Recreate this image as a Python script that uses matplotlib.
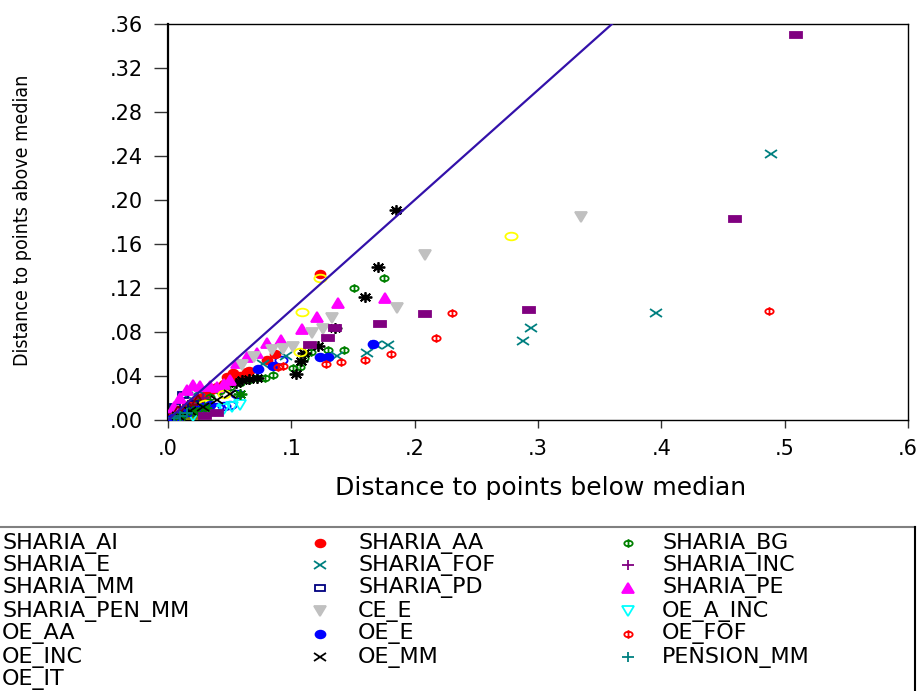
import matplotlib
matplotlib.use('Agg')
import matplotlib.pyplot as plt
from matplotlib.markers import MarkerStyle
from matplotlib.path import Path
from matplotlib.transforms import Affine2D
from matplotlib.lines import Line2D
from matplotlib import font_manager

W, H = 924, 691

# --- data, legend order row by row ---
names = ['SHARIA_AI', 'SHARIA_AA', 'SHARIA_BG',
         'SHARIA_E', 'SHARIA_FOF', 'SHARIA_INC',
         'SHARIA_MM', 'SHARIA_PD', 'SHARIA_PE',
         'SHARIA_PEN_MM', 'CE_E', 'OE_A_INC',
         'OE_AA', 'OE_E', 'OE_FOF',
         'OE_INC', 'OE_MM', 'PENSION_MM',
         'OE_IT']

sharia_ai_x = [0.040, 0.045, 0.050, 0.056, 0.092, 0.010, 0.020, 0.030]
sharia_ai_y = [0.012, 0.013, 0.014, 0.024, 0.055, 0.004, 0.007, 0.010]

sharia_aa_x = [0.123, 0.087, 0.080, 0.064, 0.053, 0.048, 0.005, 0.010, 0.015, 0.020,
               0.025, 0.030, 0.035, 0.040, 0.045, 0.050, 0.058, 0.066]
sharia_aa_y = [0.133, 0.060, 0.055, 0.044, 0.043, 0.039, 0.005, 0.009, 0.013, 0.016,
               0.020, 0.023, 0.027, 0.030, 0.033, 0.036, 0.040, 0.045]

sharia_bg_x = [0.175, 0.151, 0.143, 0.130, 0.116, 0.110, 0.107, 0.101, 0.085, 0.079,
               0.010, 0.018, 0.026, 0.034, 0.042, 0.050, 0.058, 0.066, 0.072]
sharia_bg_y = [0.129, 0.120, 0.064, 0.064, 0.062, 0.056, 0.048, 0.047, 0.041, 0.038,
               0.006, 0.011, 0.016, 0.021, 0.026, 0.030, 0.034, 0.036, 0.038]

sharia_e_x = [0.185, 0.170, 0.160, 0.135, 0.122, 0.110, 0.108, 0.104, 0.060, 0.066, 0.072, 0.055]
sharia_e_y = [0.191, 0.139, 0.112, 0.084, 0.067, 0.061, 0.054, 0.042, 0.036, 0.037, 0.038, 0.034]

sharia_fof_x = [0.489, 0.396, 0.294, 0.288, 0.178, 0.169, 0.161, 0.137, 0.096, 0.077, 0.015, 0.025]
sharia_fof_y = [0.242, 0.097, 0.084, 0.072, 0.068, 0.068, 0.061, 0.058, 0.058, 0.051, 0.022, 0.026]

sharia_inc_x = [0.005, 0.012, 0.020, 0.028]
sharia_inc_y = [0.006, 0.010, 0.015, 0.020]

sharia_mm_x = [0.008, 0.015, 0.020, 0.025, 0.030]
sharia_mm_y = [0.003, 0.004, 0.004, 0.005, 0.006]

sharia_pd_x = [0.012, 0.006, 0.020]
sharia_pd_y = [0.023, 0.012, 0.015]

sharia_pe_x = [0.176, 0.138, 0.121, 0.109, 0.092, 0.080, 0.072, 0.064, 0.056,
               0.005, 0.010, 0.015, 0.020, 0.026, 0.034, 0.040, 0.045, 0.050]
sharia_pe_y = [0.111, 0.106, 0.094, 0.083, 0.073, 0.070, 0.061, 0.057, 0.052,
               0.012, 0.020, 0.027, 0.032, 0.031, 0.031, 0.030, 0.033, 0.036]

sharia_pen_mm_x = [0.008, 0.016, 0.024]
sharia_pen_mm_y = [0.008, 0.013, 0.018]

ce_e_x = [0.335, 0.208, 0.186, 0.133, 0.126, 0.117, 0.101, 0.093, 0.084, 0.070, 0.060]
ce_e_y = [0.185, 0.150, 0.102, 0.093, 0.083, 0.079, 0.066, 0.065, 0.064, 0.057, 0.050]

oe_a_inc_x = [0.038, 0.045, 0.052, 0.058, 0.010, 0.020, 0.030]
oe_a_inc_y = [0.008, 0.010, 0.012, 0.014, 0.002, 0.004, 0.006]

oe_aa_x = [0.278, 0.123, 0.109, 0.107, 0.045, 0.030]
oe_aa_y = [0.167, 0.129, 0.098, 0.062, 0.024, 0.015]

oe_e_x = [0.166, 0.130, 0.123, 0.085, 0.073, 0.004, 0.010, 0.016, 0.022, 0.028, 0.034]
oe_e_y = [0.069, 0.057, 0.057, 0.049, 0.046, 0.002, 0.004, 0.007, 0.009, 0.012, 0.014]

oe_fof_x = [0.487, 0.230, 0.217, 0.181, 0.160, 0.140, 0.128, 0.093, 0.089]
oe_fof_y = [0.099, 0.097, 0.075, 0.060, 0.055, 0.053, 0.051, 0.049, 0.048]

oe_inc_x = [0.058, 0.010, 0.020, 0.030]
oe_inc_y = [0.024, 0.004, 0.008, 0.011]

oe_mm_x = [0.008, 0.018, 0.028, 0.040, 0.050]
oe_mm_y = [0.004, 0.008, 0.012, 0.018, 0.024]

pension_mm_x = [0.005, 0.010, 0.015]
pension_mm_y = [0.002, 0.004, 0.006]

oe_it_x = [0.509, 0.460, 0.293, 0.208, 0.172, 0.135, 0.130, 0.115, 0.030, 0.040]
oe_it_y = [0.350, 0.183, 0.100, 0.096, 0.087, 0.084, 0.075, 0.068, 0.004, 0.006]

xs = [sharia_ai_x, sharia_aa_x, sharia_bg_x, sharia_e_x, sharia_fof_x, sharia_inc_x,
      sharia_mm_x, sharia_pd_x, sharia_pe_x, sharia_pen_mm_x, ce_e_x, oe_a_inc_x,
      oe_aa_x, oe_e_x, oe_fof_x, oe_inc_x, oe_mm_x, pension_mm_x, oe_it_x]
ys = [sharia_ai_y, sharia_aa_y, sharia_bg_y, sharia_e_y, sharia_fof_y, sharia_inc_y,
      sharia_mm_y, sharia_pd_y, sharia_pe_y, sharia_pen_mm_y, ce_e_y, oe_a_inc_y,
      oe_aa_y, oe_e_y, oe_fof_y, oe_inc_y, oe_mm_y, pension_mm_y, oe_it_y]

x_ticks = [0.0, 0.1, 0.2, 0.3, 0.4, 0.5, 0.6]
x_tick_labels = ['.0', '.1', '.2', '.3', '.4', '.5', '.6']
y_ticks = [0.00, 0.04, 0.08, 0.12, 0.16, 0.20, 0.24, 0.28, 0.32, 0.36]
y_tick_labels = ['.00', '.04', '.08', '.12', '.16', '.20', '.24', '.28', '.32', '.36']

# --- styles: EViews style colour / symbol cycle ---
colors = ['#0000FF', '#FF0000', '#008000', '#000000', '#008080', '#800080',
          '#808000', '#000080', '#FF00FF', '#800000', '#C0C0C0', '#00FFFF',
          '#FFFF00', '#0000FF', '#FF0000', '#008000', '#000000', '#008080',
          '#800080']

phi = Path.make_compound_path(Path.unit_circle(),
                              Path([(0, -1.5), (0, 1.5)], [Path.MOVETO, Path.LINETO]))
# (marker, filled, size, x-stretch)
sym = [('o', False, 5.5, 1.6), ('o', True, 5.5, 1.3), (phi, False, 6.0, 1.5),
       ((8, 2, 0), False, 7.5, 1.3), ('x', False, 5.5, 1.6), ('+', False, 6.5, 1.4),
       ('s', True, 5.0, 1.7), ('s', False, 5.0, 1.5), ('^', True, 7.0, 1.3),
       ('^', False, 6.5, 1.3), ('v', True, 7.0, 1.3), ('v', False, 6.5, 1.3)]


def marker_kw(k):
    m, filled, ms, sx = sym[k % 12]
    c = colors[k]
    kw = dict(marker=MarkerStyle(m, transform=Affine2D().scale(sx, 1.0)),
              markersize=ms, color=c, markeredgecolor=c, linestyle='none',
              markeredgewidth=1.3)
    kw['markerfacecolor'] = c if filled else 'none'
    return kw


fig = plt.figure(figsize=(W / 100, H / 100), dpi=100)
ax = fig.add_axes([168 / W, 1 - 420 / H, (908 - 168) / W, (420 - 24) / H])

for k in range(len(names)):
    ax.plot(xs[k], ys[k], **marker_kw(k), zorder=3)

# 45 degree line
ax.plot([0, 0.6], [0, 0.6], color='#3311AA', lw=1.6, zorder=5)

ax.set_xlim(0, 0.6)
ax.set_ylim(0, 0.36)
ax.set_xticks(x_ticks)
ax.set_xticklabels(x_tick_labels)
ax.set_yticks(y_ticks)
ax.set_yticklabels(y_tick_labels)
ax.tick_params(axis='y', direction='out', length=10, width=1, pad=8,
               labelsize=15, color='#333333')
ax.tick_params(axis='x', direction='out', length=6, width=1, pad=8,
               labelsize=15, color='#333333')
for s in ax.spines.values():
    s.set_linewidth(1.0)
ax.spines['left'].set_linewidth(1.6)

fig.text(541 / W, 1 - 488 / H, 'Distance to points below median',
         ha='center', va='center', fontsize=18)

font_names = {f.name for f in font_manager.fontManager.ttflist}
if 'Liberation Sans Narrow' in font_names:
    ylab = dict(family='Liberation Sans Narrow', size=16)
else:
    ylab = dict(family='DejaVu Sans', stretch='condensed', size=14)
fig.text(23 / W, 1 - 220 / H, 'Distance to points above median',
         rotation=90, ha='center', va='center', **ylab)

# --- legend drawn by hand ---
col_marker_px = [-30, 320, 628]
col_text_px = [2, 358, 662]
row_px = [543, 565, 588, 611, 634, 657, 680]
for k, nm in enumerate(names):
    r, c = divmod(k, 3)
    fx, fy = col_marker_px[c] / W, 1 - row_px[r] / H
    fig.add_artist(Line2D([fx], [fy], transform=fig.transFigure, **marker_kw(k)))
    fig.text(col_text_px[c] / W, fy, nm, ha='left', va='center', fontsize=16)

fig.add_artist(Line2D([0, 915 / W], [1 - 527 / H] * 2, transform=fig.transFigure,
                      color='#808080', lw=1.5))
fig.add_artist(Line2D([915 / W] * 2, [1 - 527 / H, 0], transform=fig.transFigure,
                      color='black', lw=1.5))

fig.savefig('out.png', dpi=100)
